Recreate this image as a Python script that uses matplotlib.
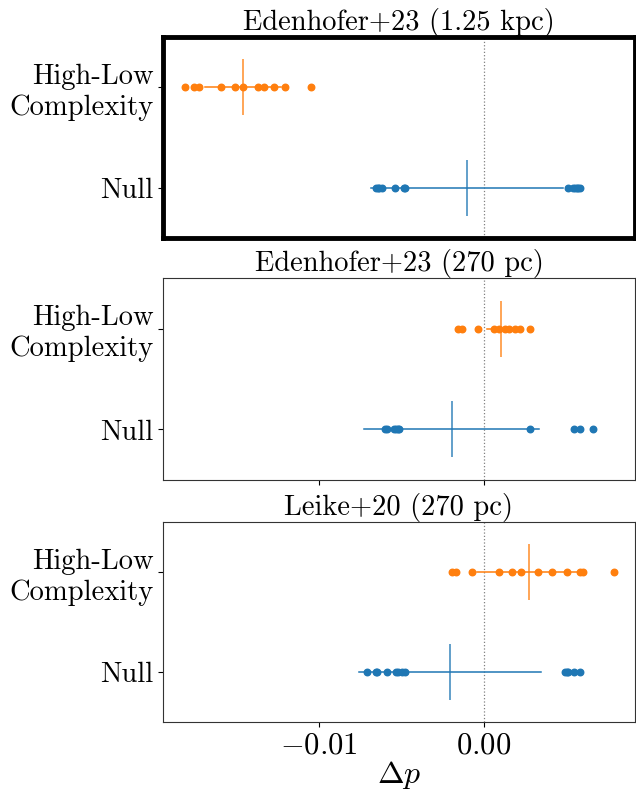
import numpy as np
import matplotlib
matplotlib.use("Agg")
import matplotlib.pyplot as plt

plt.rcParams['font.family'] = 'serif'
plt.rcParams['font.serif'] = ['cmr10']
plt.rcParams['mathtext.fontset'] = 'cm'
plt.rcParams['axes.formatter.use_mathtext'] = True

# panel titles and row labels
titles = ['Edenhofer+23 (1.25 kpc)', 'Edenhofer+23 (270 pc)', 'Leike+20 (270 pc)']
row_labels = ['Null', 'High-Low\nComplexity']

# individual Delta p values
null_pts = [
    [-0.00656, -0.00645, -0.00636, -0.00620, -0.00539, -0.00485, -0.00479,
     0.00511, 0.00545, 0.00556, 0.00566, 0.00576, 0.00586],
    [-0.00602, -0.00586, -0.00543, -0.00531, -0.00522, -0.00515,
     0.00283, 0.00552, 0.00586, 0.00665],
    [-0.00711, -0.00656, -0.00646, -0.00590, -0.00535, -0.00519, -0.00499, -0.00481,
     0.00495, 0.00505, 0.00515, 0.00552, 0.00586],
]
hl_pts = [
    [-0.01818, -0.01764, -0.01733, -0.01598, -0.01515, -0.01461, -0.01372,
     -0.01338, -0.01277, -0.01208, -0.01050],
    [-0.00158, -0.00131, -0.00036, 0.00061, 0.00091, 0.00131, 0.00152,
     0.00192, 0.00222, 0.00283],
    [-0.00192, -0.00166, -0.00071, 0.00093, 0.00172, 0.00226, 0.00329,
     0.00414, 0.00507, 0.00586, 0.00606, 0.00790],
]
# mean and error half-width per panel
null_mean = [-0.00100, -0.00195, -0.00204]
null_err = [0.00584, 0.00534, 0.00553]
hl_mean = [-0.01465, 0.00105, 0.00276]
hl_err = [0.00232, 0.00085, 0.00316]

blue = '#1f77b4'
orange = '#ff7f0e'

fig = plt.figure(figsize=(6.36, 7.91), dpi=100)
boxes = [[0.2563, 0.6991, 0.742, 0.2541],
         [0.2563, 0.3932, 0.742, 0.2553],
         [0.2563, 0.0872, 0.742, 0.2528]]

for i in range(3):
    ax = fig.add_axes(boxes[i])
    ax.axvline(0, color='gray', ls=':', lw=0.9, zorder=0)
    for y, pts, m, e, c in [(0, null_pts[i], null_mean[i], null_err[i], blue),
                            (1, hl_pts[i], hl_mean[i], hl_err[i], orange)]:
        ax.plot([m - e, m + e], [y, y], color=c, lw=1.1, zorder=1)
        ax.plot([m], [y], marker='|', markersize=40, mew=1.4, color=c,
                alpha=0.7, zorder=2)
        ax.scatter(pts, np.full(len(pts), y), s=22, color=c, zorder=3)
    ax.set_xlim(-0.0195, 0.0092)
    ax.set_ylim(-0.5, 1.5)
    ax.set_yticks([0, 1])
    ax.set_yticklabels(row_labels, fontsize=20.6)
    ax.set_xticks([-0.01, 0.0])
    ax.set_title(titles[i], fontsize=20.5, pad=4)
    for s in ax.spines.values():
        s.set_color('#333333')
    if i == 0:
        for s in ax.spines.values():
            s.set_linewidth(3.5)
            s.set_color('black')
        ax.tick_params(axis='x', length=0)
    if i < 2:
        ax.set_xticklabels([])
    else:
        ax.set_xticklabels(['$-0.01$', '$0.00$'], fontsize=22)
        ax.set_xlabel(r'$\Delta p$', fontsize=23, labelpad=0)

fig.savefig('out.png', dpi=100)
